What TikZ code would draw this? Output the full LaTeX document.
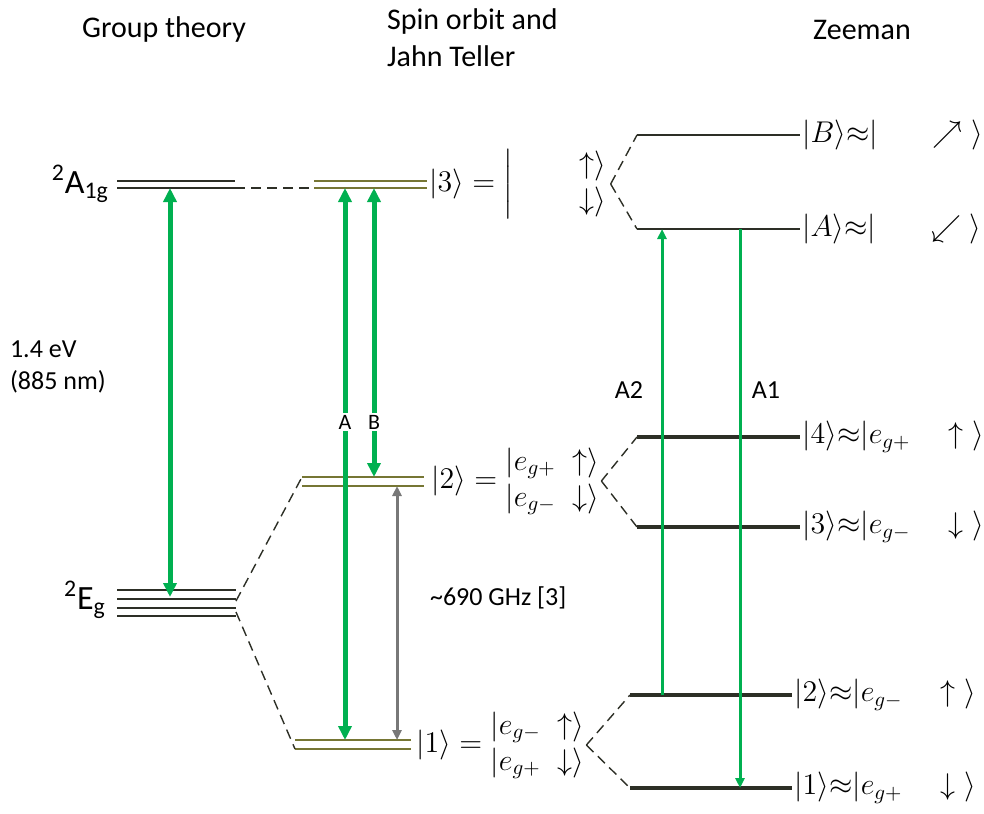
\RequirePackage{fix-cm}
\documentclass[tikz,border=0pt]{standalone}
\usepackage[no-math]{fontspec}
\setmainfont{Carlito}
\usepackage{amsmath}
\usetikzlibrary{arrows.meta}

\definecolor{transgreen}{RGB}{0,176,80}
\definecolor{levelgray}{RGB}{45,47,38}
\definecolor{levelolive}{RGB}{118,118,52}
\definecolor{gapgray}{RGB}{120,120,120}

\begin{document}
\begin{tikzpicture}[x=0.5pt, y=-0.5pt,
    ttl/.style={font=\fontsize{15}{18.5}\selectfont, align=left},
    term/.style={font=\fontsize{17}{20}\selectfont},
    ket/.style={font=\fontsize{15}{18}\selectfont, inner sep=1pt},
    note/.style={font=\fontsize{13}{15.6}\selectfont, align=left},
    lvl/.style={line width=1.3pt, levelgray},
    lvlso/.style={line width=1.3pt, levelolive},
    lvlz/.style={line width=2pt, levelgray},
    split/.style={line width=0.7pt, levelgray, dash pattern=on 5pt off 3pt},
    opt/.style={line width=2.5pt, transgreen, {Triangle[length=7pt,width=6.5pt]}-{Triangle[length=7pt,width=6.5pt]}},
    optz/.style={line width=1.5pt, transgreen},
    gap/.style={line width=1.5pt, gapgray, {Triangle[length=5pt,width=4.5pt]}-{Triangle[length=5pt,width=4.5pt]}}
]
    \useasboundingbox (0,0) rectangle (984,813);

    % Titles
    \node[ttl] (gt) at (164,30) {Group theory};
    \node[ttl, anchor=west] (so) at (380,38) {Spin orbit and\\Jahn Teller};
    \node[ttl] (zm) at (862,30) {Zeeman};

    % Group theory levels
    \draw[lvl] (117,181) -- (235,181);
    \draw[lvl] (117,188) -- (235,188) coordinate (a1g-r);
    \node[term, anchor=east] (a1g) at (116,184) {\textsuperscript{2}A\textsubscript{1g}};
    \foreach \y in {590,599,608,616}
        \draw[lvl] (117,\y) -- (236,\y);
    \coordinate (eg-r1) at (236,601);
    \coordinate (eg-r2) at (236,612);
    \node[term, anchor=east] (eg) at (113,600) {\textsuperscript{2}E\textsubscript{g}};
    \coordinate (a1g-m) at (170,188);
    \coordinate (eg-m) at (170,597);
    \draw[opt] (a1g-m) -- (eg-m);
    \node[note, anchor=west] (ev) at (3,367) {1.4 eV\\(885 nm)};

    % Spin orbit and Jahn Teller levels
    \draw[lvlso] (314,181) -- (427,181);
    \draw[lvlso] (314,188) coordinate (s3-l) -- (427,188);
    \draw[lvlso] (302,477) coordinate (s2-l) -- (424,477);
    \draw[lvlso] (302,486) -- (424,486);
    \draw[lvlso] (295,740) -- (411,740);
    \draw[lvlso] (295,749) coordinate (s1-l) -- (411,749);
    \draw[split] (a1g-r) -- (s3-l);
    \draw[split] (eg-r1) -- (s2-l);
    \draw[split] (eg-r2) -- (s1-l);

    \node[ket, anchor=west] (k3) at (427,184)
        {$|3\rangle=\left|\begin{array}{@{}l@{}}\hspace*{33pt}\uparrow\rangle\\\hspace*{33pt}\downarrow\rangle\end{array}\right.$};
    \node[ket, anchor=west] (k2) at (429,481)
        {$|2\rangle=\begin{array}{@{}l@{}}|e_{g+}\;\uparrow\rangle\\|e_{g-}\;\downarrow\rangle\end{array}$};
    \node[ket, anchor=west] (k1) at (414,745)
        {$|1\rangle=\begin{array}{@{}l@{}}|e_{g-}\;\uparrow\rangle\\|e_{g+}\;\downarrow\rangle\end{array}$};

    % A, B and splitting
    \coordinate (A-top) at (345,188);
    \coordinate (A-bot) at (345,740);
    \coordinate (B-top) at (374,188);
    \coordinate (B-bot) at (374,477);
    \draw[opt] (A-top) -- (A-bot);
    \draw[opt] (B-top) -- (B-bot);
    \node[font=\fontsize{11}{13}\selectfont, fill=white, inner sep=1pt] (la) at (345,422) {A};
    \node[font=\fontsize{11}{13}\selectfont, fill=white, inner sep=1pt] (lb) at (374,422) {B};
    \coordinate (g-top) at (397,486);
    \coordinate (g-bot) at (397,740);
    \draw[gap] (g-top) -- (g-bot);
    \node[note, anchor=west] (ghz) at (423,598) {\textasciitilde690 GHz [3]};

    % Zeeman levels
    \draw[lvl] (637,135) coordinate (zB-l) -- (800,135) coordinate (zB-r);
    \draw[lvl] (637,229) coordinate (zA-l) -- (800,229) coordinate (zA-r);
    \draw[lvlz] (637,437) coordinate (z4-l) -- (800,437) coordinate (z4-r);
    \draw[lvlz] (637,527) coordinate (z3-l) -- (800,527) coordinate (z3-r);
    \draw[lvlz] (630,695) coordinate (z2-l) -- (792,695) coordinate (z2-r);
    \draw[lvlz] (630,788) coordinate (z1-l) -- (792,788) coordinate (z1-r);

    \node[ket, anchor=west] (kB) at (zB-r) {$|B\rangle{\approx}|\quad\;\;\nearrow\;\rangle$};
    \node[ket, anchor=west] (kA) at (zA-r) {$|A\rangle{\approx}|\quad\;\;\swarrow\;\rangle$};
    \node[ket, anchor=west] (k4z) at (z4-r) {$|4\rangle{\approx}|e_{g+}\quad\uparrow\;\rangle$};
    \node[ket, anchor=west] (k3z) at (z3-r) {$|3\rangle{\approx}|e_{g-}\quad\downarrow\;\rangle$};
    \node[ket, anchor=west] (k2z) at (z2-r) {$|2\rangle{\approx}|e_{g-}\quad\uparrow\;\rangle$};
    \node[ket, anchor=west] (k1z) at (z1-r) {$|1\rangle{\approx}|e_{g+}\quad\downarrow\;\rangle$};

    \draw[split] (k3.east) -- (zB-l);
    \draw[split] (k3.east) -- (zA-l);
    \draw[split] (k2.east) -- (z4-l);
    \draw[split] (k2.east) -- (z3-l);
    \draw[split] (k1.east) -- (z2-l);
    \draw[split] (k1.east) -- (z1-l);

    % A1, A2
    \coordinate (a2-bot) at (662,695);
    \coordinate (a2-top) at (662,229);
    \coordinate (a1-top) at (740,229);
    \coordinate (a1-bot) at (740,788);
    \draw[optz, -{Triangle[length=5pt,width=4.5pt]}] (a2-bot) -- (a2-top);
    \draw[optz, -{Triangle[length=5pt,width=4.5pt]}] (a1-top) -- (a1-bot);
    \node[note] (la2) at (629,390) {A2};
    \node[note] (la1) at (766,390) {A1};
\end{tikzpicture}
\end{document}
